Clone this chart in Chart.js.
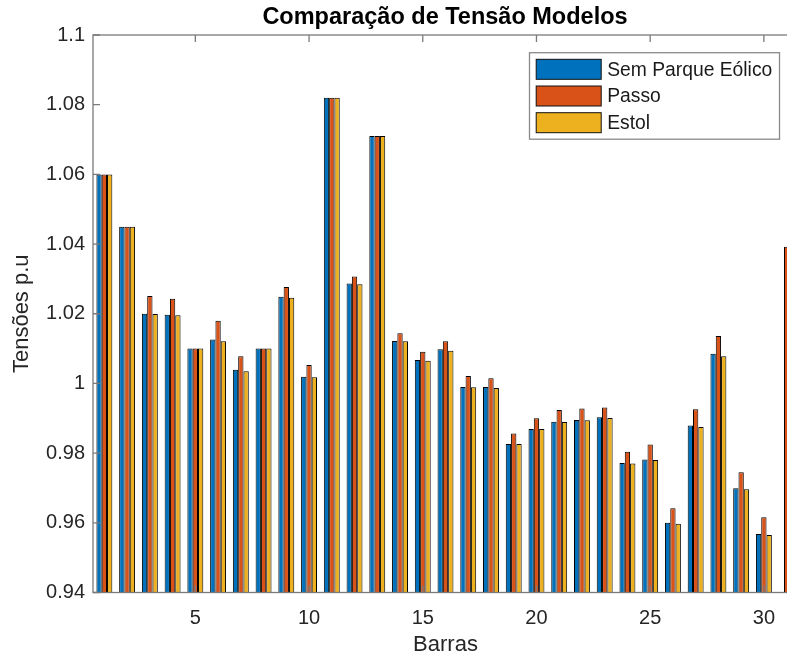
<!DOCTYPE html>
<html>
<head>
<meta charset="utf-8">
<script src="https://cdn.jsdelivr.net/npm/chart.js@4.4.0/dist/chart.umd.min.js"></script>
<style>
  html, body { margin: 0; padding: 0; background: #fff; overflow: hidden; }
  #wrap { width: 787px; height: 658px; overflow: hidden; }
  canvas { display: block; }
</style>
</head>
<body>
<div id="wrap"><canvas id="grafico" width="890" height="658"></canvas></div>
<script>
// Barras do sistema (1 a 31)
const barras = ['1','2','3','4','5','6','7','8','9','10','11','12','13','14','15','16',
                '17','18','19','20','21','22','23','24','25','26','27','28','29','30','31'];

// Tensões em p.u
const semParque = [1.06, 1.045, 1.02, 1.0197, 1.01, 1.0126, 1.0039, 1.01, 1.0249, 1.0019,
                   1.082, 1.0287, 1.071, 1.0122, 1.0067, 1.0098, 0.999, 0.999, 0.9826, 0.9869,
                   0.989, 0.9895, 0.9903, 0.9772, 0.9782, 0.96, 0.9879, 1.0085, 0.9699, 0.9568, null];
const passo = [1.06, 1.045, 1.0251, 1.0243, 1.01, 1.018, 1.0078, 1.01, 1.0277, 1.0053,
               1.082, 1.0307, 1.071, 1.0144, 1.0091, 1.0121, 1.0021, 1.0015, 0.9856, 0.99,
               0.9924, 0.9928, 0.9931, 0.9804, 0.9825, 0.9642, 0.9926, 1.0136, 0.9745, 0.9616, 1.0392];
const estol = [1.06, 1.045, 1.0199, 1.0196, 1.01, 1.0121, 1.0035, 1.01, 1.0246, 1.0018,
               1.082, 1.0285, 1.071, 1.0121, 1.0065, 1.0094, 0.9989, 0.9987, 0.9826, 0.9869,
               0.9889, 0.9894, 0.9901, 0.977, 0.978, 0.9597, 0.9875, 1.0078, 0.9696, 0.9565, null];

// Marcas dos eixos
const ticksX = ['5','10','15','20','25','30'];
const ticksY = [0.94, 0.96, 0.98, 1, 1.02, 1.04, 1.06, 1.08, 1.1];

const fonte = '"Liberation Sans", Arial, Helvetica, sans-serif';

// Caixa e marcas para dentro, estilo MATLAB
const eixosMatlab = {
    id: 'eixosMatlab',
    afterDatasetsDraw(chart) {
        const { ctx, chartArea: a, scales: { x, y } } = chart;
        const L = 7;
        ctx.save();
        ctx.strokeStyle = '#7a7a7a';
        ctx.lineWidth = 1.3;
        ctx.strokeRect(a.left, a.top, a.right - a.left, a.bottom - a.top);
        ctx.beginPath();
        barras.forEach(function (b, i) {
            if (!ticksX.includes(b)) return;
            const px = x.getPixelForValue(i);
            ctx.moveTo(px, a.bottom); ctx.lineTo(px, a.bottom - L);
            ctx.moveTo(px, a.top); ctx.lineTo(px, a.top + L);
        });
        ticksY.forEach(function (v) {
            const py = y.getPixelForValue(v);
            ctx.moveTo(a.left, py); ctx.lineTo(a.left + L, py);
            ctx.moveTo(a.right, py); ctx.lineTo(a.right - L, py);
        });
        ctx.stroke();
        ctx.restore();
    }
};

// Legenda com caixa no canto superior direito
const legendaMatlab = {
    id: 'legendaMatlab',
    afterDraw(chart) {
        const { ctx, chartArea: a } = chart;
        const w = 250, h = 86.5;
        const x0 = a.right - 18.5 - w;
        const y0 = a.top + 17.7;
        ctx.save();
        ctx.fillStyle = '#fff';
        ctx.fillRect(x0, y0, w, h);
        ctx.strokeStyle = '#8a8a8a';
        ctx.lineWidth = 1.3;
        ctx.strokeRect(x0, y0, w, h);
        ctx.font = '19.3px ' + fonte;
        ctx.textBaseline = 'middle';
        chart.data.datasets.forEach(function (ds, i) {
            const cy = y0 + 16.6 + i * 26.7;
            ctx.fillStyle = ds.backgroundColor;
            ctx.fillRect(x0 + 6.7, cy - 10, 65, 20);
            ctx.strokeStyle = '#111';
            ctx.lineWidth = 1;
            ctx.strokeRect(x0 + 6.7, cy - 10, 65, 20);
            ctx.fillStyle = '#1a1a1a';
            ctx.fillText(ds.label, x0 + 77.7, cy + 1);
        });
        ctx.restore();
    }
};

const ctx = document.getElementById('grafico').getContext('2d');

new Chart(ctx, {
    type: 'bar',
    data: {
        labels: barras,
        datasets: [
            { label: 'Sem Parque Eólico', data: semParque, backgroundColor: '#0072BD' },
            { label: 'Passo', data: passo, backgroundColor: '#D95319' },
            { label: 'Estol', data: estol, backgroundColor: '#EDB120' }
        ]
    },
    options: {
        responsive: false,
        animation: false,
        layout: { padding: 0 },
        datasets: {
            bar: {
                categoryPercentage: 0.7,
                barPercentage: 1.0,
                borderColor: '#000',
                borderWidth: 1
            }
        },
        plugins: {
            legend: { display: false },
            tooltip: { enabled: false },
            title: {
                display: true,
                text: 'Comparação de Tensão Modelos',
                color: '#000',
                font: { family: fonte, size: 23.5, weight: 'bold' },
                padding: { top: 3, bottom: 3.8 }
            }
        },
        scales: {
            x: {
                grid: { display: false, drawTicks: false },
                border: { display: false },
                ticks: {
                    autoSkip: false,
                    maxRotation: 0,
                    padding: 14,
                    color: '#262626',
                    font: { family: fonte, size: 20 },
                    callback: function (v, i) {
                        return ticksX.includes(barras[i]) ? barras[i] : '';
                    }
                },
                title: {
                    display: true,
                    text: 'Barras',
                    color: '#262626',
                    font: { family: fonte, size: 22 },
                    padding: { top: 0, bottom: 0 }
                },
                afterFit: function (s) { s.height = 65.5; }
            },
            y: {
                min: 0.94,
                max: 1.1,
                grid: { display: false, drawTicks: false },
                border: { display: false },
                ticks: {
                    stepSize: 0.02,
                    padding: 8,
                    color: '#262626',
                    font: { family: fonte, size: 20 },
                    callback: function (v) { return String(Number(v.toFixed(2))); }
                },
                title: {
                    display: true,
                    text: 'Tensões p.u',
                    color: '#262626',
                    font: { family: fonte, size: 22 },
                    padding: { top: 9, bottom: 0 }
                },
                afterFit: function (s) { s.width = 93; }
            },
            // eixo direito da caixa (fica fora da janela)
            yDireito: {
                position: 'right',
                min: 0.94,
                max: 1.1,
                grid: { display: false, drawTicks: false },
                border: { display: false },
                ticks: { display: false },
                afterFit: function (s) { s.width = 92; }
            }
        }
    },
    plugins: [eixosMatlab, legendaMatlab]
});
</script>
</body>
</html>
